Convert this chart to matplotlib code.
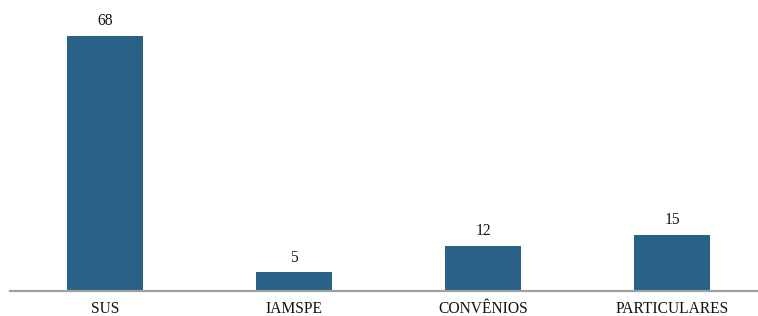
import matplotlib
matplotlib.use("Agg")
import matplotlib.pyplot as plt

categories = ["SUS", "IAMSPE", "CONVÊNIOS", "PARTICULARES"]
values = [68, 5, 12, 15]

plt.rcParams['font.family'] = ['Liberation Serif', 'DejaVu Serif']

W, H = 758, 316
fig = plt.figure(figsize=(W/100, H/100), dpi=100)
ax = fig.add_axes([10/W, 25/H, 748/W, 285/H])
x = list(range(len(categories)))
bars = ax.bar(x, values, width=0.4, color="#2a6186", zorder=2)
ax.set_xlim(-0.503, 3.455)
ax.set_ylim(0, 76)
for xi, v in zip(x, values):
    ax.text(xi, v + 1.8, str(v), ha="center", va="bottom", fontsize=11.2, color="#111111")
ax.set_xticks(x)
ax.set_xticklabels(categories, fontsize=11.2, color="#111111")
ax.tick_params(axis="x", length=0, pad=7)
ax.set_yticks([])
for s in ["top", "right", "left"]:
    ax.spines[s].set_visible(False)
ax.spines["bottom"].set_color("#a0a0a0")
ax.spines["bottom"].set_linewidth(1.6)
fig.savefig("out.png", dpi=100)
